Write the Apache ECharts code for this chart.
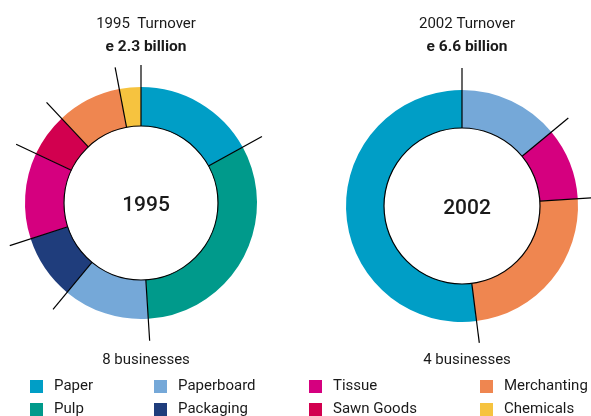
<!DOCTYPE html>
<html>
<head>
<meta charset="utf-8">
<style>
  html, body { margin: 0; padding: 0; background: #fff; }
  #chart { width: 591px; height: 416px; }
</style>
<script src="https://cdn.jsdelivr.net/npm/echarts@6/dist/echarts.min.js"></script>
</head>
<body>
<div id="chart"></div>
<script>
// Business mix by share of turnover (%), clockwise from 12 o'clock
const segments1995 = ['Paper', 'Pulp', 'Paperboard', 'Packaging', 'Tissue', 'Sawn Goods', 'Merchanting', 'Chemicals'];
const shares1995 = [17, 32, 12, 9, 12, 6, 9, 3];
const segments2002 = ['Paperboard', 'Tissue', 'Merchanting', 'Paper'];
const shares2002 = [14, 10, 24, 52];

const headings = ['1995  Turnover', '2002 Turnover'];
const turnovers = ['e 2.3 billion', 'e 6.6 billion'];
const years = ['1995', '2002'];
const businessCounts = ['8 businesses', '4 businesses'];

const legendColumns = [
  ['Paper', 'Pulp'],
  ['Paperboard', 'Packaging'],
  ['Tissue', 'Sawn Goods'],
  ['Merchanting', 'Chemicals']
];

const palette = {
  'Paper': '#009ec6',
  'Pulp': '#009a8b',
  'Paperboard': '#75a8d8',
  'Packaging': '#1f3d7c',
  'Tissue': '#d5007f',
  'Sawn Goods': '#d2004f',
  'Merchanting': '#ef8650',
  'Chemicals': '#f6c33f'
};

const FONT = 'Roboto, "Noto Sans", sans-serif';
const INK = '#1a1a1a';
const INNER = 77;
const OUTER = 116;
const TICK_END = 138;

const donuts = [
  { names: segments1995, values: shares1995, center: [141, 203], inner: INNER },
  { names: segments2002, values: shares2002, center: [462, 206], inner: INNER + 1 }
];

function boundaries(values) {
  const out = [];
  let acc = 0;
  values.forEach(v => { out.push([0, acc]); acc += v; });
  return out;
}

const total = v => v.reduce((a, b) => a + b, 0);

const chart = echarts.init(document.getElementById('chart'));

const titles = [];
donuts.forEach((d, i) => {
  const cx = d.center[0];
  titles.push(
    { text: headings[i], left: cx, top: 12, textAlign: 'center',
      textStyle: { fontFamily: FONT, fontSize: 15, fontWeight: 'normal', color: INK } },
    { text: turnovers[i], left: cx, top: 34, textAlign: 'center',
      textStyle: { fontFamily: FONT, fontSize: 15.5, fontWeight: 'bold', color: INK } },
    { text: years[i], left: cx, top: d.center[1] - 13, textAlign: 'center',
      textStyle: { fontFamily: FONT, fontSize: 21, fontWeight: 500, color: INK } },
    { text: businessCounts[i], left: cx, top: 348, textAlign: 'center',
      textStyle: { fontFamily: FONT, fontSize: 15, fontWeight: 'normal', color: INK } }
  );
});

const legendLeft = [30, 154, 309, 480];
const legends = legendColumns.map((col, i) => ({
  data: col,
  orient: 'vertical',
  left: legendLeft[i],
  top: 379,
  height: 60,
  padding: 0,
  itemWidth: 13,
  itemHeight: 13,
  itemGap: 8,
  icon: 'rect',
  selectedMode: false,
  textStyle: { fontFamily: FONT, fontSize: 15, color: INK, padding: [0, 0, 0, 6] }
}));

const series = [];
const polar = [];
const radiusAxis = [];
const angleAxis = [];

donuts.forEach((d, i) => {
  series.push({
    type: 'pie',
    center: d.center,
    radius: [d.inner, OUTER],
    startAngle: 90,
    clockwise: true,
    silent: true,
    label: { show: false },
    labelLine: { show: false },
    emphasis: { disabled: true },
    data: d.names.map((n, k) => ({ name: n, value: d.values[k], itemStyle: { color: palette[n] } }))
  });

  polar.push({ center: d.center, radius: TICK_END });
  radiusAxis.push({ polarIndex: i, min: 0, max: TICK_END, show: false });
  angleAxis.push({ polarIndex: i, min: 0, max: total(d.values), startAngle: 90, clockwise: true, show: false });

  // divider ticks at each segment boundary plus the inner rim outline
  series.push({
    type: 'custom',
    coordinateSystem: 'polar',
    polarIndex: i,
    silent: true,
    z: 5,
    data: boundaries(d.values),
    renderItem: function (params, api) {
      const a = api.value(1);
      const p1 = api.coord([d.inner, a]);
      const p2 = api.coord([TICK_END, a]);
      const children = [{
        type: 'line',
        shape: { x1: p1[0], y1: p1[1], x2: p2[0], y2: p2[1] },
        style: { stroke: '#000', lineWidth: 1.2 }
      }];
      if (params.dataIndex === 0) {
        const c = api.coord([0, 0]);
        const r = Math.hypot(p1[0] - c[0], p1[1] - c[1]);
        children.push({
          type: 'circle',
          shape: { cx: c[0], cy: c[1], r: r },
          style: { fill: 'none', stroke: '#000', lineWidth: 1.2 }
        });
      }
      return { type: 'group', children: children };
    }
  });
});

chart.setOption({
  backgroundColor: '#fff',
  animation: false,
  title: titles,
  legend: legends,
  polar: polar,
  radiusAxis: radiusAxis,
  angleAxis: angleAxis,
  series: series
});
</script>
</body>
</html>
